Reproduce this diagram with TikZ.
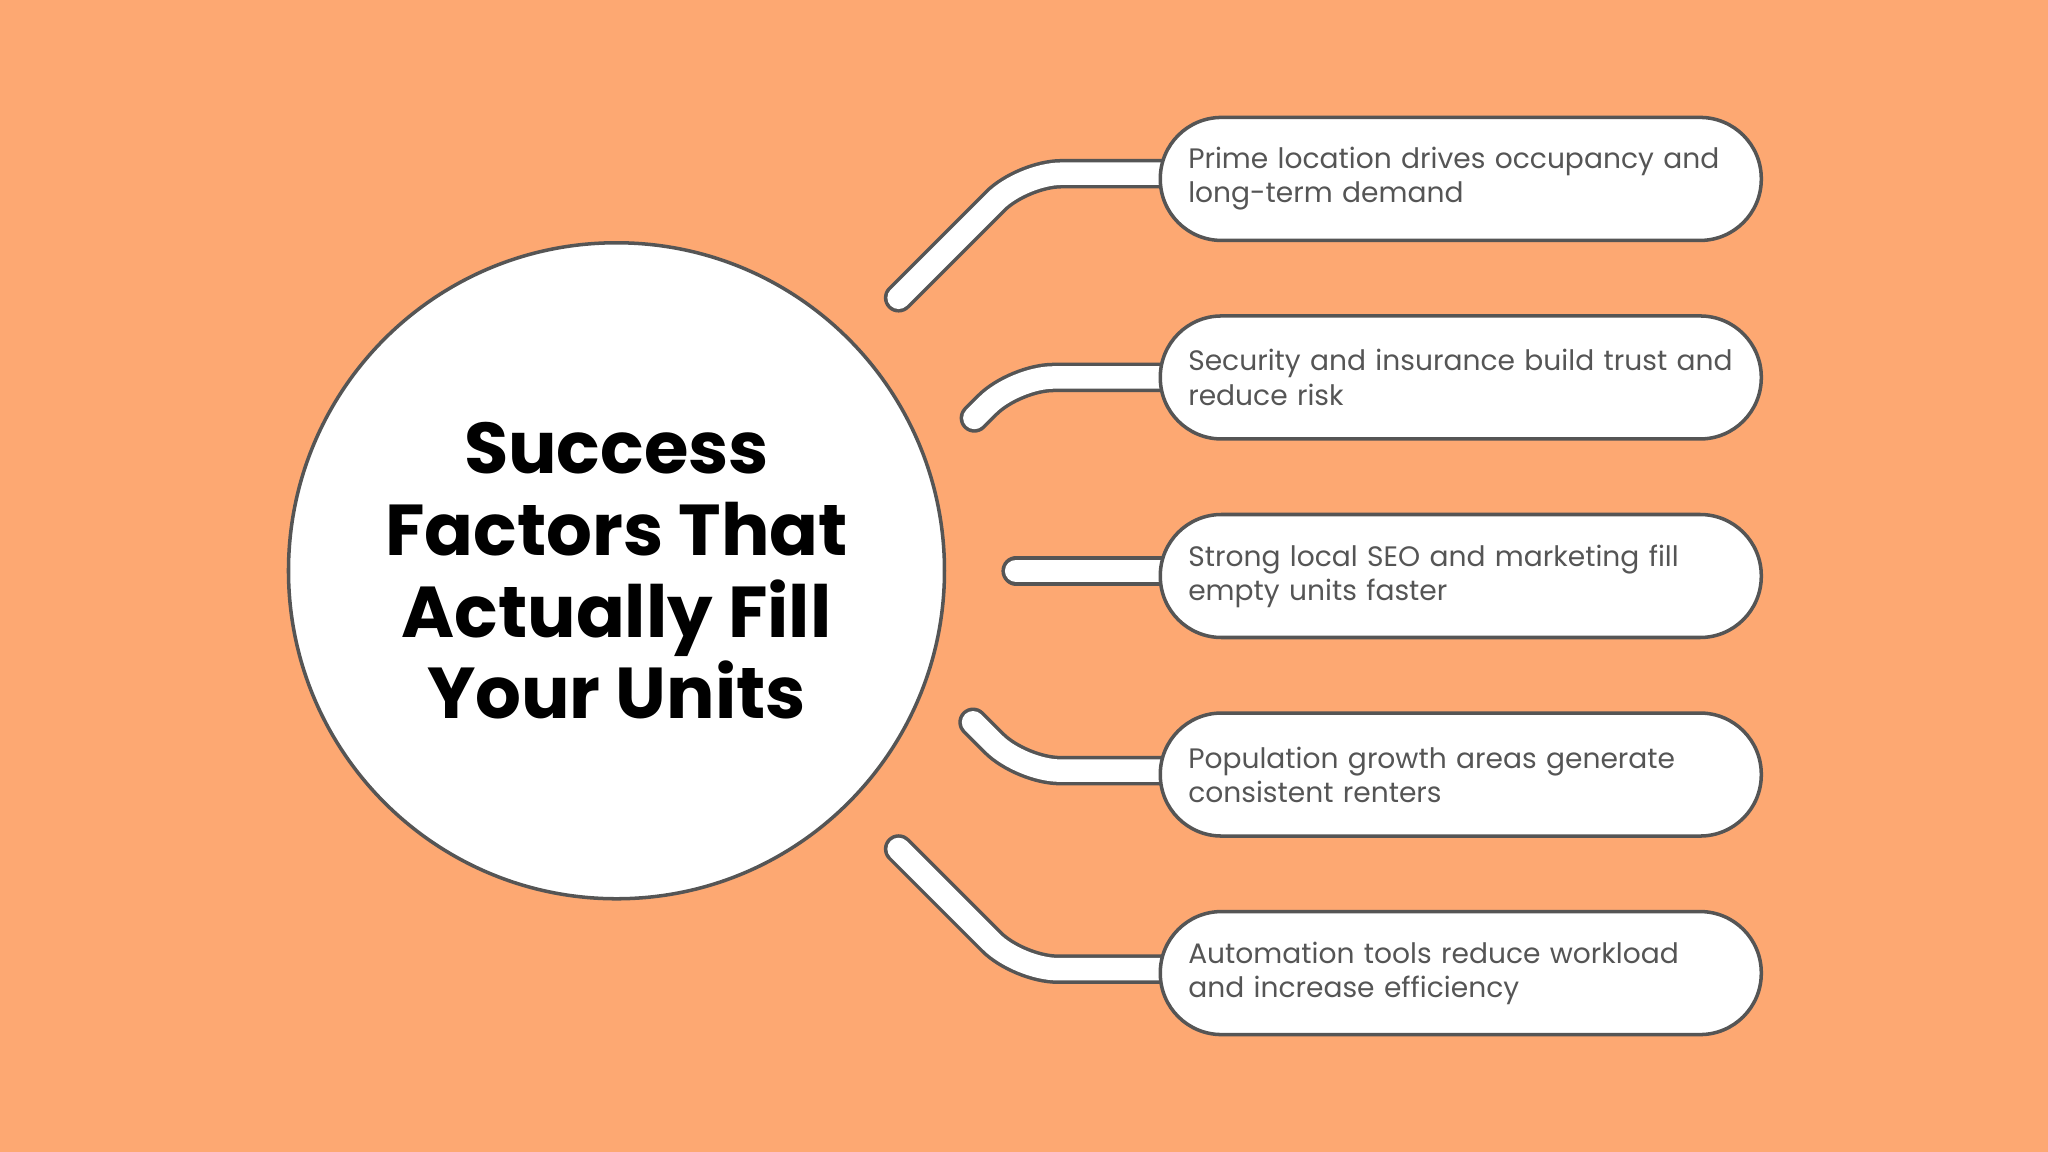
\documentclass[tikz,border=0pt]{standalone}
\usepackage{fontspec}
\setmainfont{Poppins}
\usetikzlibrary{positioning,backgrounds}
\definecolor{bgorange}{HTML}{FDA872}
\definecolor{edgegray}{HTML}{555555}
\definecolor{textgray}{HTML}{555555}
\tikzstyle{hub} = [circle, minimum size=6.56cm, fill=white, draw=edgegray, line width=1pt, align=center, font=\fontsize{20.5}{23.3}\selectfont\bfseries, text=black]
\tikzstyle{factor} = [rectangle, rounded corners=17.4pt, minimum width=6.01cm, minimum height=1.23cm, fill=white, draw=edgegray, line width=1pt, text width=5.45cm, align=left, anchor=west, font=\fontsize{8}{9.7}\selectfont, text=textgray, inner xsep=0.2cm]
\tikzstyle{bandout} = [line width=8.4pt, draw=edgegray, line cap=round, rounded corners=11pt]
\tikzstyle{bandin} = [line width=6.4pt, draw=white, line cap=round, rounded corners=11pt]
\newcommand{\band}[1]{\draw[bandout] #1; \draw[bandin] #1;}
\begin{document}
\begin{tikzpicture}[x=0.01306cm, y=-0.01306cm]
  \useasboundingbox (0,0) rectangle (1568,882);
  \node (hub) [hub] at (472,437) {Success\\Factors That\\Actually Fill\\Your Units};
  \node (location) [factor] at (887,137) {Prime location drives occupancy and long-term demand};
  \node (security) [factor] at (887,289) {Security and insurance build trust and reduce risk};
  \node (seo) [factor] at (887,441) {Strong local SEO and marketing fill empty units faster};
  \node (growth) [factor] at (887,593) {Population growth areas generate consistent renters};
  \node (automation) [factor] at (887,745) {Automation tools reduce workload and increase efficiency};
  % connector ends and bends
  \coordinate (c1) at (688,228);
  \coordinate (c2) at (746,320);
  \coordinate (c3) at (778,437);
  \coordinate (c4) at (745,553);
  \coordinate (c5) at (688,650);
  \coordinate (k1) at (783,133);
  \coordinate (k2) at (777,289);
  \coordinate (k4) at (782,590);
  \coordinate (k5) at (780,742);
  \begin{scope}[on background layer]
    \fill[bgorange] (0,0) rectangle (1568,882);
    \band{([xshift=10pt]location.west |- k1) -- (k1) -- (c1)}
    \band{([xshift=10pt]security.west |- k2) -- (k2) -- (c2)}
    \band{([xshift=10pt]seo.west |- c3) -- (c3)}
    \band{([xshift=10pt]growth.west |- k4) -- (k4) -- (c4)}
    \band{([xshift=10pt]automation.west |- k5) -- (k5) -- (c5)}
  \end{scope}
\end{tikzpicture}
\end{document}
